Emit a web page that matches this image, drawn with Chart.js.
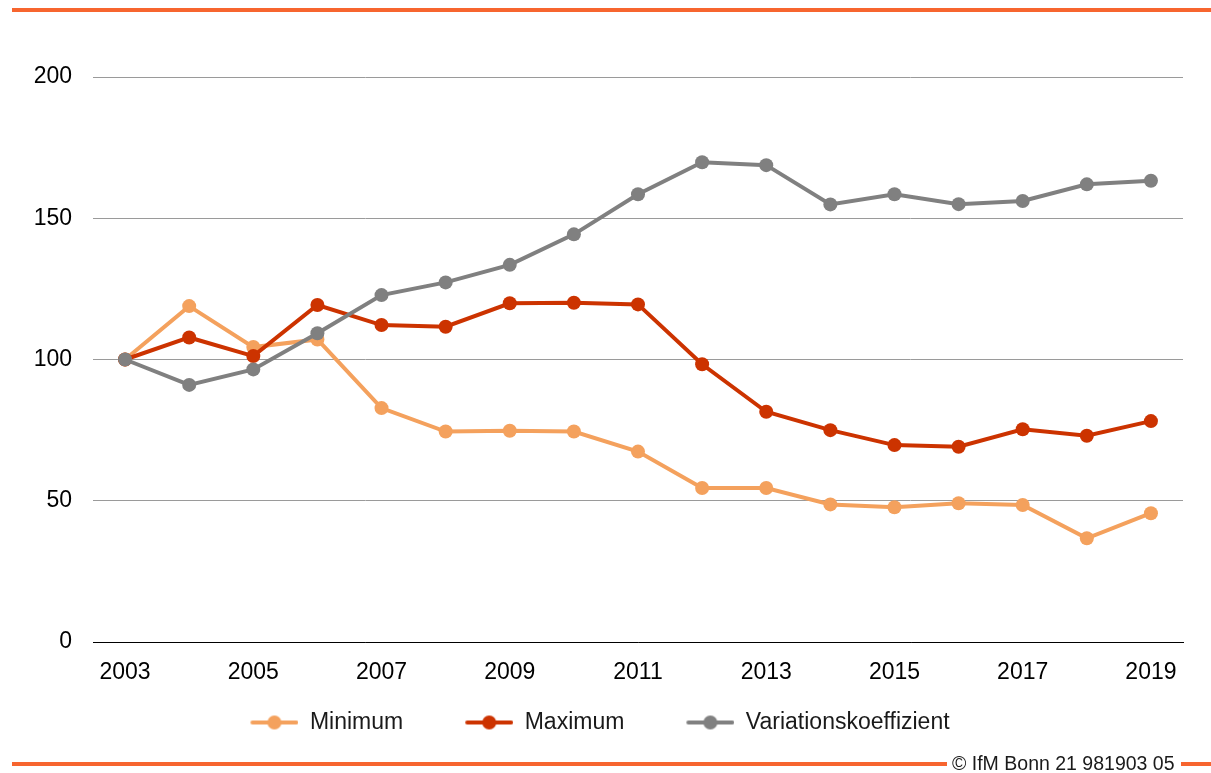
<!DOCTYPE html>
<html>
<head>
<meta charset="utf-8">
<script src="https://cdn.jsdelivr.net/npm/chart.js@4/dist/chart.umd.min.js"></script>
<style>
  html, body { margin: 0; padding: 0; background: #fff; }
  #wrap { position: relative; width: 1211px; height: 773px; overflow: hidden; }
  canvas { position: absolute; left: 0; top: 0; }
  .bar { position: absolute; background: #f7652f; height: 4px; }
  #copy { position: absolute; left: 952px; top: 751px; font: 19.5px "Liberation Sans", Arial, sans-serif; color: #1a1a1a; white-space: nowrap; line-height: 24px; }
</style>
</head>
<body>
<div id="wrap">
  <canvas id="c" width="1211" height="773"></canvas>
  <div class="bar" style="left:12px; top:8px; width:1199px;"></div>
  <div class="bar" style="left:12px; top:762px; width:935px;"></div>
  <div class="bar" style="left:1181px; top:762px; width:30px;"></div>
  <div id="copy">© IfM Bonn 21 981903 05</div>
</div>
<script>
const years = ['2003','2004','2005','2006','2007','2008','2009','2010','2011','2012','2013','2014','2015','2016','2017','2018','2019'];
const minimum = [100, 118.9, 104.4, 107.1, 82.8, 74.5, 74.8, 74.5, 67.4, 54.5, 54.5, 48.7, 47.7, 49.1, 48.5, 36.7, 45.6];
const maximum = [100, 107.8, 101.2, 119.3, 112.2, 111.6, 119.9, 120.1, 119.5, 98.3, 81.5, 75.0, 69.7, 69.1, 75.3, 73.0, 78.2];
const variation = [100, 91.0, 96.5, 109.3, 122.8, 127.3, 133.5, 144.3, 158.5, 169.8, 168.8, 154.9, 158.5, 155.0, 156.1, 162.0, 163.3];
const seriesNames = ['Minimum', 'Maximum', 'Variationskoeffizient'];
const yTicks = [0, 50, 100, 150, 200];

const colors = ['#f4a15d', '#cc3300', '#808080'];
const FONT = '"Liberation Sans", Arial, sans-serif';

function legendMarker(color) {
  const margin = 17, w = 48, h = 16;
  const c = document.createElement('canvas');
  c.width = margin + w; c.height = h;
  const g = c.getContext('2d');
  g.strokeStyle = color; g.lineWidth = 4; g.lineCap = 'round';
  g.beginPath(); g.moveTo(margin + 2, h / 2); g.lineTo(margin + w - 2, h / 2); g.stroke();
  g.fillStyle = color;
  g.beginPath(); g.arc(margin + w / 2, h / 2, 7, 0, Math.PI * 2); g.fill();
  return c;
}
const markers = colors.map(legendMarker);

const datasets = [minimum, maximum, variation].map((d, i) => ({
  label: seriesNames[i],
  data: d,
  borderColor: colors[i],
  backgroundColor: colors[i],
  pointBackgroundColor: colors[i],
  borderWidth: 4,
  pointRadius: 7,
  pointHoverRadius: 7,
  pointBorderWidth: 0,
  tension: 0,
  order: 2 - i
}));

new Chart(document.getElementById('c'), {
  type: 'line',
  data: { labels: years, datasets },
  options: {
    responsive: false,
    animation: false,
    devicePixelRatio: 1,
    layout: { padding: { left: 0, right: 28, top: 77, bottom: 29 } },
    plugins: {
      tooltip: { enabled: false },
      legend: {
        position: 'bottom',
        title: { display: true, text: '', font: { size: 1 }, padding: { top: -27.2, bottom: 0 } },
        labels: {
          usePointStyle: true,
          pointStyleWidth: 65,
          padding: 45,
          color: '#1a1a1a',
          font: { family: FONT, size: 23 },
          sort: (a, b) => a.datasetIndex - b.datasetIndex,
          generateLabels: (chart) => {
            const items = Chart.defaults.plugins.legend.labels.generateLabels(chart);
            items.forEach(it => { it.pointStyle = markers[it.datasetIndex]; });
            return items;
          }
        }
      }
    },
    scales: {
      x: {
        offset: true,
        grid: { display: false },
        border: { display: true, color: '#000', width: 1 },
        afterFit: (s) => { s.height = 50; },
        ticks: {
          autoSkip: false,
          maxRotation: 0,
          padding: 9,
          color: '#000',
          font: { family: FONT, size: 23 },
          callback: function (v, i) { return i % 2 === 0 ? years[i] : ''; }
        }
      },
      y: {
        min: 0, max: 200,
        afterFit: (s) => { s.width = 93; },
        afterBuildTicks: (s) => { s.ticks = yTicks.map(v => ({ value: v })); },
        border: { display: false },
        grid: { color: '#9a9a9a', lineWidth: 1, drawTicks: false },
        ticks: {
          padding: 21,
          color: '#000',
          font: { family: FONT, size: 23 }
        }
      }
    }
  }
});
</script>
</body>
</html>
